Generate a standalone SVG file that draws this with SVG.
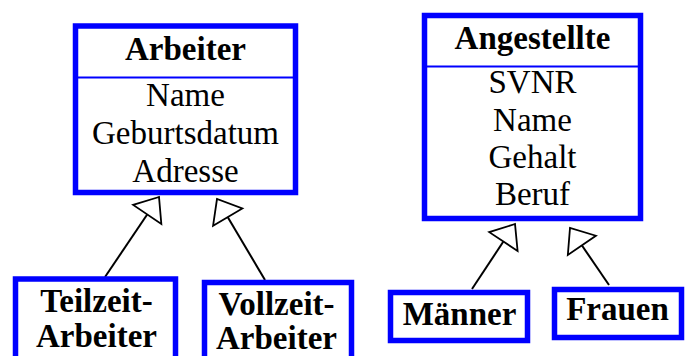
<svg xmlns="http://www.w3.org/2000/svg" width="688" height="356" viewBox="0 0 688 356">
  <style>
    .box { fill: #ffffff; stroke: #0000ff; stroke-width: 5.5; }
    .sep { stroke: #0000ff; stroke-width: 2; }
    .title { font-family: "Liberation Serif", "Times New Roman", serif; font-size: 33px; font-weight: bold; fill: #000000; text-anchor: middle; }
    .attr { font-family: "Liberation Serif", "Times New Roman", serif; font-size: 33px; fill: #000000; text-anchor: middle; }
    .gen { stroke: #000000; stroke-width: 2; fill: none; }
  </style>
  <defs>
    <!-- hollow generalisation triangle -->
    <marker id="inherit" markerUnits="userSpaceOnUse" viewBox="-23 -19 25 38" refX="0" refY="0" markerWidth="25" markerHeight="38" orient="auto">
      <path d="M 0 0 L -21 -17 L -21 17 Z" fill="#ffffff" stroke="#000000" stroke-width="1.8" stroke-linejoin="miter"/>
    </marker>
  </defs>
  <rect width="688" height="356" fill="#ffffff"/>

  <g id="connectors">
    <line class="gen" x1="105" y1="277" x2="159" y2="197" marker-end="url(#inherit)"/>
    <line class="gen" x1="265" y1="280" x2="217" y2="199" marker-end="url(#inherit)"/>
    <line class="gen" x1="472" y1="289" x2="515" y2="224" marker-end="url(#inherit)"/>
    <line class="gen" x1="609" y1="285" x2="570" y2="228" marker-end="url(#inherit)"/>
  </g>

  <g id="arbeiter">
    <rect class="box" x="75.5" y="26" width="220" height="166.5"/>
    <line class="sep" x1="78" y1="77.5" x2="293" y2="77.5"/>
    <text class="title" x="185.5" y="60">Arbeiter</text>
    <text class="attr" x="185.5" y="106">Name</text>
    <text class="attr" x="185.5" y="144">Geburtsdatum</text>
    <text class="attr" x="185.5" y="182">Adresse</text>
  </g>

  <g id="angestellte">
    <rect class="box" x="424.5" y="15.5" width="216" height="203"/>
    <line class="sep" x1="427" y1="66.5" x2="638" y2="66.5"/>
    <text class="title" x="532.5" y="49">Angestellte</text>
    <text class="attr" x="532.5" y="93">SVNR</text>
    <text class="attr" x="532.5" y="131">Name</text>
    <text class="attr" x="532.5" y="168">Gehalt</text>
    <text class="attr" x="532.5" y="205">Beruf</text>
  </g>

  <g id="teilzeit-arbeiter">
    <rect class="box" x="15.5" y="279" width="160" height="90"/>
    <text class="title" x="96.5" y="312">Teilzeit-</text>
    <text class="title" x="96.5" y="347">Arbeiter</text>
  </g>

  <g id="vollzeit-arbeiter">
    <rect class="box" x="204.5" y="282.5" width="147" height="90"/>
    <text class="title" x="276.5" y="315">Vollzeit-</text>
    <text class="title" x="276.5" y="349">Arbeiter</text>
  </g>

  <g id="maenner">
    <rect class="box" x="390.5" y="292.5" width="137" height="48"/>
    <text class="title" x="459.5" y="325">Männer</text>
  </g>

  <g id="frauen">
    <rect class="box" x="554.5" y="289.5" width="127" height="48"/>
    <text class="title" x="617.5" y="320">Frauen</text>
  </g>
</svg>
